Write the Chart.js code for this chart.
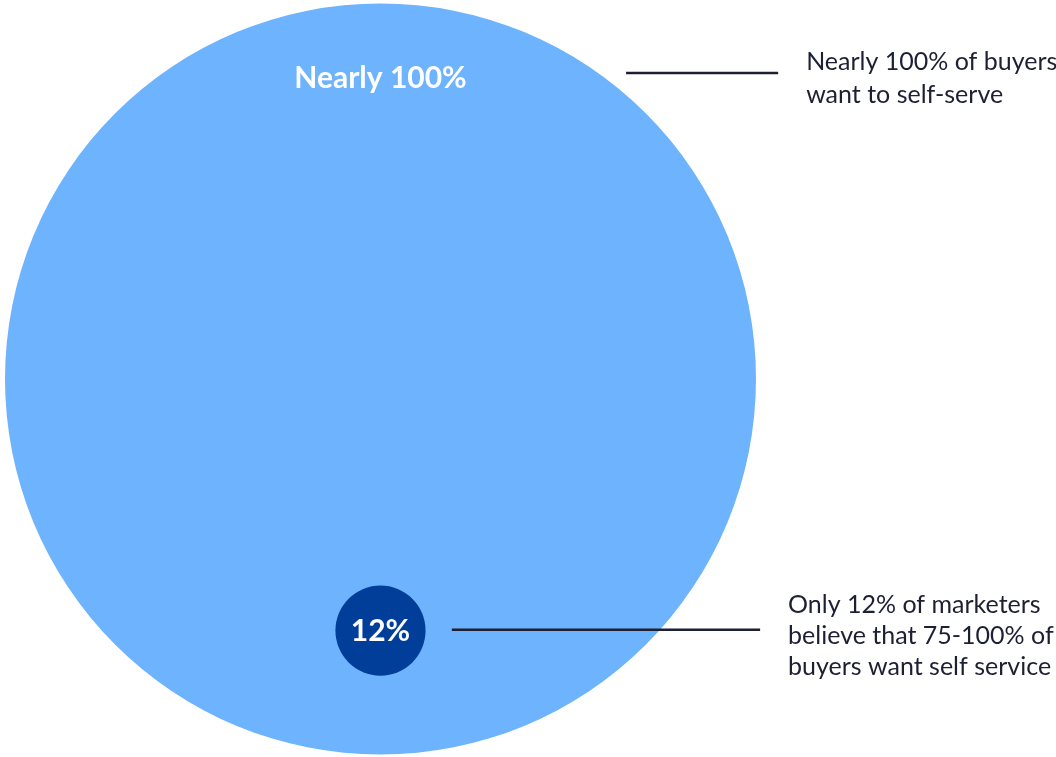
<!DOCTYPE html>
<html>
<head>
<meta charset="utf-8">
<script src="https://cdn.jsdelivr.net/npm/chart.js@4/dist/chart.umd.min.js"></script>
<style>
  html, body { margin: 0; padding: 0; background: #fff; }
  #wrap { width: 1056px; height: 757px; position: relative; }
</style>
</head>
<body>
<div id="wrap"><canvas id="selfServeChart"></canvas></div>
<script>
// share values, drawn as nested circles (radius proportional to the percentage)
const circleNames = ["Buyers", "Marketers"];
const circleValues = [100, 12];
const circleCenterY = [0, -67];
const circleLabels = ["Nearly 100%", "12%"];
const circleColors = ["#6eb3fe", "#003e9a"];

// callout leader lines and their texts
const calloutLines = [
    [{x: 65.4, y: 81.5}, {x: 105.9, y: 81.5}],
    [{x: 19, y: -66.8}, {x: 101.1, y: -66.8}]
];
const calloutTexts = [
    ["Nearly 100% of buyers", "want to self-serve"],
    ["Only 12% of marketers", "believe that 75-100% of", "buyers want self service"]
];

const inkColor = "#1d1f33";
const fontFamily = "Lato, 'Noto Sans', sans-serif";

// px distance for a value along the x scale
function scaleLen(chart, v) {
    const s = chart.scales.x;
    if (!s || !chart.chartArea) return 0;
    const d = Math.abs(s.getPixelForValue(v) - s.getPixelForValue(0));
    return isFinite(d) ? d : 0;
}

const labelPlugin = {
    id: "circleLabels",
    afterDatasetsDraw(chart) {
        const c = chart.ctx;
        const xs = chart.scales.x, ys = chart.scales.y;
        c.save();
        c.fillStyle = "#fff";
        c.textAlign = "center";
        c.textBaseline = "middle";
        // big circle label sits near its top, small one in its centre
        c.font = "bold 30px " + fontFamily;
        c.fillText(circleLabels[0], xs.getPixelForValue(0),
            ys.getPixelForValue(circleCenterY[0]) - scaleLen(chart, circleValues[0]) + 75);
        c.fillText(circleLabels[1], xs.getPixelForValue(0), ys.getPixelForValue(circleCenterY[1]) + 1);

        c.fillStyle = inkColor;
        c.textAlign = "left";
        c.font = "25px " + fontFamily;
        const firstLineShift = [-11, -25];
        const lineGap = [33, 31];
        calloutTexts.forEach((lines, i) => {
            const end = calloutLines[i][1];
            const x = xs.getPixelForValue(end.x) + 28;
            const y0 = ys.getPixelForValue(end.y) + firstLineShift[i];
            lines.forEach((t, k) => c.fillText(t, x, y0 + k * lineGap[i]));
        });
        c.restore();
    }
};

const datasets = [{
    type: "scatter",
    label: "Share",
    data: circleNames.map((n, i) => ({x: 0, y: circleCenterY[i], v: circleValues[i]})),
    pointBackgroundColor: circleColors,
    pointBorderWidth: 0,
    pointRadius: ctx => ctx.raw ? scaleLen(ctx.chart, ctx.raw.v) : 0,
    pointHoverRadius: ctx => ctx.raw ? scaleLen(ctx.chart, ctx.raw.v) : 0,
    showLine: false,
    clip: false,
    order: 2
}];
calloutLines.forEach((pts, i) => {
    datasets.push({
        type: "line",
        label: "Callout " + (i + 1),
        data: pts,
        borderColor: inkColor,
        borderWidth: 2.4,
        pointRadius: 0,
        fill: false,
        order: 1
    });
});

new Chart(document.getElementById("selfServeChart"), {
    type: "scatter",
    data: {datasets},
    options: {
        responsive: true,
        maintainAspectRatio: false,
        animation: false,
        events: [],
        layout: {padding: 0},
        plugins: {legend: {display: false}, tooltip: {enabled: false}},
        scales: {
            x: {type: "linear", display: false, min: -101.33, max: 179.9},
            y: {type: "linear", display: false, min: -100.67, max: 100.93}
        }
    },
    plugins: [labelPlugin]
});
</script>
</body>
</html>
